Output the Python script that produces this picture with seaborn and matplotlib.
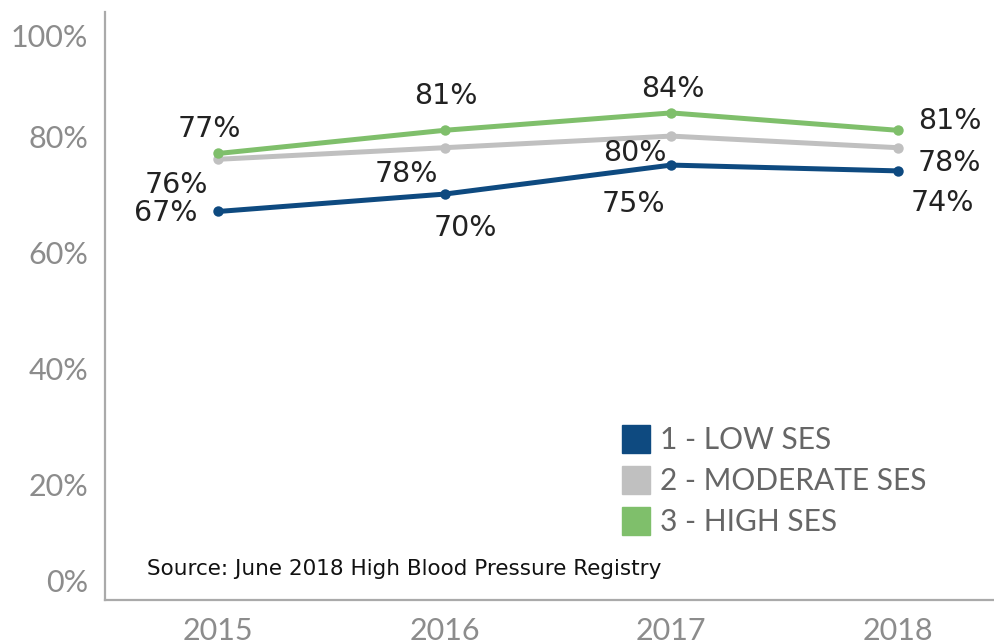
### Blood pressure control by SES ###

# import libraries
import pandas as pd
import matplotlib.pyplot as plt
import matplotlib.transforms as mtransforms
from matplotlib.lines import Line2D
import seaborn as sns

# data
years = [2015, 2016, 2017, 2018]
groups = ["1 - LOW SES", "2 - MODERATE SES", "3 - HIGH SES"]
low_ses = [67, 70, 75, 74]
moderate_ses = [76, 78, 80, 78]
high_ses = [77, 81, 84, 81]
colors = ["#0e4a80", "#c0c0c0", "#7fbf6b"]
y_ticks = [0, 20, 40, 60, 80, 100]
y_tick_labels = ["0%", "20%", "40%", "60%", "80%", "100%"]
source_note = "Source: June 2018 High Blood Pressure Registry"

# long table for seaborn
df = pd.DataFrame({
    "year": years * 3,
    "value": low_ses + moderate_ses + high_ses,
    "group": [g for g in groups for _ in years],
})

sns.set_style("white")
plt.rcParams["font.family"] = ["DejaVu Sans"]

fig = plt.figure(figsize=(9.95, 6.43), dpi=100)
ax = fig.add_axes([105 / 995, 43 / 643, 1 - 105 / 995, (600 - 12) / 643])

sns.lineplot(data=df, x="year", y="value", hue="group", hue_order=groups,
             palette=colors, marker="o", markersize=7.5, markeredgewidth=0,
             linewidth=3.6, legend=False, ax=ax)

ax.set_xlim(2014.5, 2018.43)
ax.set_ylim(0, 101.4)
ax.set_xlabel("")
ax.set_ylabel("")

# axes look
for side in ["top", "right"]:
    ax.spines[side].set_visible(False)
for side in ["left", "bottom"]:
    ax.spines[side].set_color("#aaaaaa")
    ax.spines[side].set_linewidth(1.6)

ax.set_xticks(years)
ax.set_xticklabels([str(y) for y in years])
ax.set_xticks([2015.5, 2016.5, 2017.5], minor=True)
ax.tick_params(axis="x", which="major", length=0, pad=12, labelsize=22,
               labelcolor="#8c8c8c")
ax.tick_params(axis="x", which="minor", length=14, width=1.5, color="#efefef",
               direction="out")
ax.set_yticks(y_ticks)
ax.set_yticklabels(y_tick_labels)
ax.tick_params(axis="y", length=0, pad=12, labelsize=22, labelcolor="#8c8c8c")
for lab in ax.get_xticklabels() + ax.get_yticklabels():
    lab.set_family("Lato")

# end labels are pulled inside like in the original
ylabs = ax.get_yticklabels()
ylabs[0].set_transform(ylabs[0].get_transform() +
                       mtransforms.ScaledTranslation(0, 20 / 100, fig.dpi_scale_trans))
ylabs[-1].set_transform(ylabs[-1].get_transform() +
                        mtransforms.ScaledTranslation(0, -15 / 100, fig.dpi_scale_trans))

# data labels (pixel offsets from each point)
offsets = {
    "1 - LOW SES": [(-52, -2), (21, -34), (-38, -39), (45, -32)],
    "2 - MODERATE SES": [(-42, -26), (-38, -26), (-36, -17), (52, -15)],
    "3 - HIGH SES": [(-9, 24), (1, 34), (2, 24), (52, 9)],
}
series = {"1 - LOW SES": low_ses, "2 - MODERATE SES": moderate_ses, "3 - HIGH SES": high_ses}
for g in groups:
    for yr, val, (dx, dy) in zip(years, series[g], offsets[g]):
        ax.annotate(f"{val}%", (yr, val), xytext=(dx, dy), textcoords="offset pixels",
                    ha="center", va="center", fontsize=20.5, color="#222222")

# legend with square swatches
handles = [Line2D([], [], marker="s", linestyle="", markersize=20, color=c) for c in colors]
leg = ax.legend(handles, groups, loc="upper left",
                bbox_to_anchor=((624 - 105) / 890, (643 - 426 - 43) / 588),
                frameon=False, fontsize=21.5, handlelength=0.8, handletextpad=0.42,
                labelspacing=0.44, borderaxespad=0, borderpad=0)
for t in leg.get_texts():
    t.set_color("#666666")
    t.set_family("Lato")

# source note
fig.text(147 / 995, 1 - 569 / 643, source_note, fontsize=15.5, color="#111111",
         va="center", ha="left")

fig.savefig("out.png", dpi=100)
